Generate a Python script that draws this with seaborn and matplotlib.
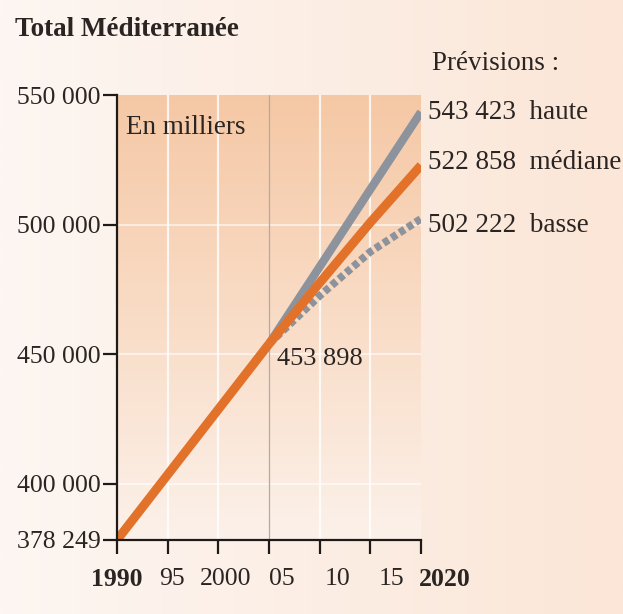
import numpy as np
import pandas as pd
import matplotlib.pyplot as plt
import matplotlib.transforms as mtransforms
import seaborn as sns
from matplotlib.colors import LinearSegmentedColormap

# ---- data (milliers d'habitants) ----
years_hist = [1990, 2005]
pop_hist = [378249, 453898]
years_proj = [2005, 2010, 2015, 2020]
proj_haute = [453898, 483700, 513600, 543423]
proj_mediane = [453898, 477500, 500800, 522858]
proj_basse = [453898, 472500, 489500, 502222]
scenario_names = ["haute", "médiane", "basse"]

x_ticks = [1990, 1995, 2000, 2005, 2010, 2015, 2020]
x_labels = ["1990", "95", "2000", "05", "10", "15", "2020"]
y_ticks = [378249, 400000, 450000, 500000, 550000]
# -------------------------------------

ORANGE = "#e2722a"
GREY = "#8c939c"
TXT = "#2a2422"
# the printed year labels drift to the right of their ticks (points)
x_label_nudge = [0, 3, 5, 9, 13, 15, 17]


def fmt(v):
    return f"{v:,}".replace(",", " ")


sns.set_style("white")
plt.rcParams["font.family"] = ["Liberation Serif", "DejaVu Serif"]

fig = plt.figure(figsize=(6.23, 6.14), dpi=100)

# page background, light cream getting a bit peachier to the right
bg = fig.add_axes([0, 0, 1, 1], zorder=-5)
bg_cmap = LinearSegmentedColormap.from_list("page", ["#fdf6f2", "#fbe6d7"])
bg.imshow(np.linspace(0, 1, 256)[None, :], cmap=bg_cmap, aspect="auto", extent=[0, 1, 0, 1])
bg.axis("off")

ax = fig.add_axes([117 / 623, 1 - 540 / 614, 304 / 623, 445 / 614])
ax.set_xlim(1990, 2020)
ax.set_ylim(378249, 550000)

# plot area gradient: peach at the top fading down
area_cmap = LinearSegmentedColormap.from_list("area", ["#fcf1ea", "#f9dcc6", "#f5c8a5"])
ax.imshow(np.linspace(0, 1, 256)[:, None], cmap=area_cmap, origin="lower", aspect="auto",
          extent=[1990, 2020, 378249, 550000], zorder=0)

for xv in [1995, 2000, 2010, 2015]:
    ax.axvline(xv, color="white", lw=1.6, alpha=0.8, zorder=1)
for yv in [400000, 450000, 500000]:
    ax.axhline(yv, color="white", lw=1.4, alpha=0.6, zorder=1)
ax.axvline(2005, color="#b3aaa3", lw=0.9, zorder=1)

hist = pd.DataFrame({"annee": years_hist, "pop": pop_hist})
proj = pd.DataFrame({"annee": years_proj, "haute": proj_haute,
                     "mediane": proj_mediane, "basse": proj_basse})

sns.lineplot(data=proj, x="annee", y="haute", ax=ax, color=GREY, lw=6, zorder=3,
             solid_capstyle="butt")
sns.lineplot(data=proj, x="annee", y="basse", ax=ax, color=GREY, lw=5.5, zorder=3,
             linestyle=(0, (0.8, 0.45)))
sns.lineplot(data=hist, x="annee", y="pop", ax=ax, color=ORANGE, lw=6.5, zorder=4,
             solid_capstyle="butt")
sns.lineplot(data=proj, x="annee", y="mediane", ax=ax, color=ORANGE, lw=6.5, zorder=4,
             solid_capstyle="butt")

ax.set_xlabel("")
ax.set_ylabel("")

for s in ["top", "right"]:
    ax.spines[s].set_visible(False)
for s in ["left", "bottom"]:
    ax.spines[s].set_color("#1e1a18")
    ax.spines[s].set_linewidth(1.6)
    ax.spines[s].set_zorder(6)

ax.set_xticks(x_ticks)
ax.set_xticklabels(x_labels)
ax.set_yticks(y_ticks)
ax.set_yticklabels([fmt(v) for v in y_ticks])
ax.tick_params(axis="both", direction="out", length=10, width=1.6, color="#1e1a18",
               labelsize=18.5, labelcolor=TXT, left=True, bottom=True)
ax.tick_params(axis="x", pad=10)
ax.tick_params(axis="y", pad=2, length=10)
for i, lab in enumerate(ax.get_xticklabels()):
    if i in (0, len(x_labels) - 1):
        lab.set_fontweight("bold")
    shift = mtransforms.ScaledTranslation(x_label_nudge[i] / 72, 0, fig.dpi_scale_trans)
    lab.set_transform(lab.get_transform() + shift)

# texts
fig.text(15 / 623, 1 - 29 / 614, "Total Méditerranée", fontsize=19.5, fontweight="bold",
         color=TXT, va="center", ha="left")
ax.text(0.03, 0.955, "En milliers", transform=ax.transAxes, fontsize=19.5, color=TXT,
        va="top", ha="left")
fig.text(432 / 623, 1 - 63 / 614, "Prévisions :", fontsize=19.5, color=TXT, va="center")

ends = [proj_haute[-1], proj_mediane[-1], proj_basse[-1]]
dy = [0, 2, -5]
for v, name, off in zip(ends, scenario_names, dy):
    ax.annotate(f"{fmt(v)}  {name}", xy=(years_proj[-1], v), xytext=(5, off),
                textcoords="offset points", fontsize=19.5, color=TXT, va="center",
                ha="left", annotation_clip=False)

ax.annotate(fmt(pop_hist[-1]), xy=(years_hist[-1], pop_hist[-1]), xytext=(6, -11),
            textcoords="offset points", fontsize=19, color=TXT, va="center", ha="left")

fig.savefig("out.png", dpi=100)
